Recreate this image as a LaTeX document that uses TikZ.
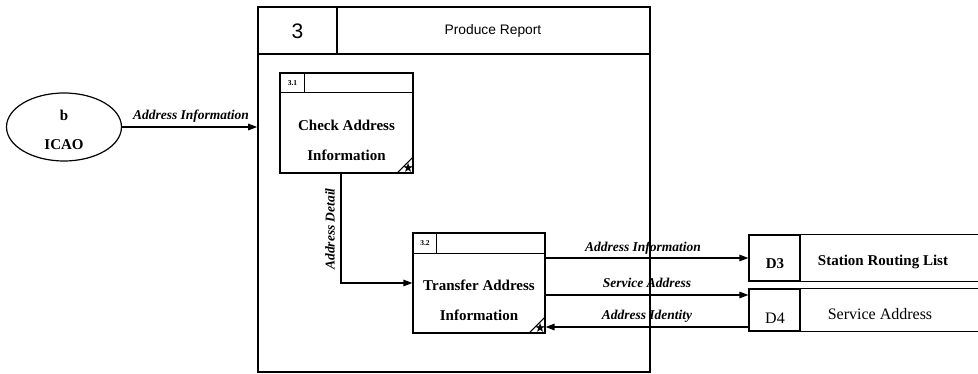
\documentclass[tikz,border=0pt]{standalone}
\usepackage{fontspec}
\setmainfont{Liberation Serif}
\setsansfont{Liberation Sans}
\newfontfamily\symbolfont{DejaVu Sans}
\usetikzlibrary{arrows.meta,shapes.geometric,calc}
\tikzset{
  box/.style={draw,line width=1.2pt,rectangle,inner sep=0pt},
  flow/.style={line width=1.3pt,-{Triangle[length=9pt,width=6.5pt]}},
  flowlabel/.style={font=\bfseries\itshape\fontsize{13.5}{15}\selectfont,inner sep=0pt},
  proctext/.style={font=\bfseries\fontsize{15}{30}\selectfont,align=center,inner sep=0pt},
  idtext/.style={font=\bfseries\fontsize{7.5}{8}\selectfont,inner sep=0pt},
  starmark/.style={font=\symbolfont\fontsize{13}{13}\selectfont,inner sep=0pt},
  storetext/.style={font=\bfseries\fontsize{15}{17}\selectfont,inner sep=0pt},
  storeplain/.style={font=\fontsize{16}{18}\selectfont,inner sep=0pt}
}
\begin{document}
\begin{tikzpicture}[x=1pt,y=-1pt]
\useasboundingbox (0,0) rectangle (978,374);

% external entity
\node[draw,line width=1.2pt,ellipse,minimum width=115pt,minimum height=68pt] (ext) at (64,127) {};
\node[proctext] (extid) at (64,115) {b};
\node[proctext] (extname) at (64,145) {ICAO};

% parent process 3
\node[box,line width=1.6pt,minimum width=392pt,minimum height=365pt] (p3) at (454,189.5) {};
\coordinate (p3hl) at (258,54);
\coordinate (p3hr) at (650,54);
\draw[line width=1.6pt] (p3hl) -- (p3hr);
\coordinate (p3dt) at (337,7);
\coordinate (p3db) at (337,54);
\draw[line width=1.4pt] (p3dt) -- (p3db);
\node[font=\sffamily\fontsize{21}{24}\selectfont,inner sep=0pt] (p3id) at (297.5,31) {3};
\node[font=\sffamily\fontsize{13.8}{16}\selectfont,inner sep=0pt] (p3name) at (493,31) {Produce Report};

% process 3.1
\node[box,minimum width=133pt,minimum height=100pt] (p31) at (346.5,123) {};
\draw[line width=1.2pt] (p31.north west) ++(0,20) -- ++(133,0);
\draw[line width=1.2pt] (p31.north west) ++(25,0) -- ++(0,20);
\node[idtext] (p31id) at (292.5,83) {3.1};
\node[proctext] (p31name) at (346.5,140) {Check Address\\Information};
\draw[line width=1pt] (p31.south east) ++(-17,0) -- ++(17,-17);
\node[starmark] (p31star) at ($(p31.south east)+(-5.5,-6)$) {★};

% process 3.2
\node[box,minimum width=132pt,minimum height=100pt] (p32) at (479,283) {};
\draw[line width=1.2pt] (p32.north west) ++(0,21) -- ++(132,0);
\draw[line width=1.2pt] (p32.north west) ++(24,0) -- ++(0,21);
\node[idtext] (p32id) at (425,243.5) {3.2};
\node[proctext] (p32name) at (479,300) {Transfer Address\\Information};
\draw[line width=1pt] (p32.south east) ++(-17,0) -- ++(17,-17);
\node[starmark] (p32star) at ($(p32.south east)+(-5.5,-6)$) {★};

% data stores
\node[box,minimum width=51pt,minimum height=46pt] (d3) at (774.5,258) {};
\draw[line width=1.3pt] (d3.north east) -- ++(177,0);
\draw[line width=1.3pt] (d3.south east) -- ++(177,0);
\node[storetext] (d3id) at (775,264) {D3};
\node[storetext] (d3name) at (883,262) {Station Routing List};

\node[box,minimum width=51pt,minimum height=42pt] (d4) at (774.5,310) {};
\draw[line width=1.3pt] (d4.north east) -- ++(177,0);
\draw[line width=1.3pt] (d4.south east) -- ++(177,0);
\node[storeplain] (d4id) at (775,318) {D4};
\node[storeplain] (d4name) at (880,314) {Service Address};

% flows
\draw[flow] (ext.east) -- (ext.east -| p3.west);
\node[flowlabel] (f1) at (191,116) {Address Information};

\draw[flow] ([xshift=-5.5pt]p31.south) |- (p32.west);
\node[flowlabel,rotate=90] (f2) at (330,229) {Address Detail};

\draw[flow] (p32.east |- d3.west) -- (d3.west);
\node[flowlabel] (f3) at (643,248) {Address Information};

\draw[flow] (p32.east |- 0,295) -- (d4.west |- 0,295);
\node[flowlabel] (f4) at (647,283) {Service Address};

\draw[flow] (d4.west |- 0,327) -- (p32.east |- 0,327);
\node[flowlabel] (f5) at (647,316) {Address Identity};
\end{tikzpicture}
\end{document}
